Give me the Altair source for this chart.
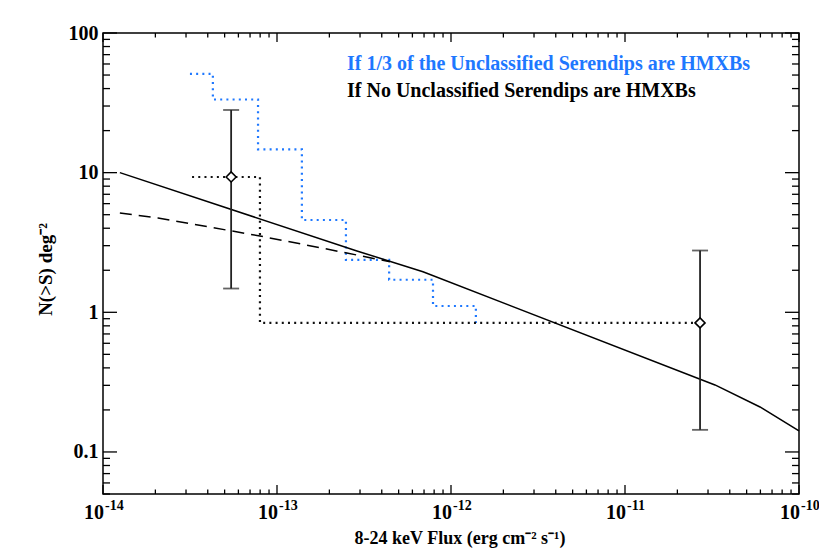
import altair as alt
import pandas as pd

# ---------------- data ----------------
solid_x = [1.25e-14, 2.88e-13, 6.9e-13, 3.29e-11, 5.97e-11, 1e-10]
solid_y = [10.0, 2.75, 1.95, 0.302, 0.210, 0.1415]

dashed_x = [1.25e-14, 2.07e-14, 7.98e-14, 2.52e-13, 4.46e-13]
dashed_y = [5.15, 4.74, 3.52, 2.66, 2.30]

blue_x = [3.16e-14, 4.28e-14, 7.78e-14, 1.39e-13, 2.49e-13, 4.41e-13, 7.88e-13, 1.39e-12]
blue_y = [50.9, 33.4, 14.7, 4.58, 2.37, 1.71, 1.11, 0.84]

black_x = [3.25e-14, 7.98e-14, 2.70e-11]
black_y = [9.31, 0.84, 0.84]

pt_x = [5.45e-14, 2.70e-11]
pt_y = [9.31, 0.84]
pt_lo = [1.48, 0.144]
pt_hi = [28.1, 2.77]

x_major = [1e-14, 1e-13, 1e-12, 1e-11, 1e-10]
x_exp = ["-14", "-13", "-12", "-11", "-10"]
x_minor = [m * 10.0 ** e for e in range(-14, -10) for m in range(2, 10)]
y_major = [0.1, 1, 10, 100]
y_minor = [m * 10.0 ** e for e in range(-2, 2) for m in range(2, 10) if m * 10.0 ** e >= 0.05]

line1 = "If 1/3 of the Unclassified Serendips are HMXBs"
line2 = "If No Unclassified Serendips are HMXBs"
x_title = "8-24 keV Flux (erg cm\u207b\u00b2 s\u207b\u00b9)"
y_title = "N(>S) deg\u207b\u00b2"

BLUE = "#1e78ff"
FONT = "Liberation Serif"
W, H = 696, 461

xscale = alt.Scale(type="log", domain=[1e-14, 1e-10], nice=False)
yscale = alt.Scale(type="log", domain=[0.05, 100], nice=False)


def X(f):
    return alt.X(f"{f}:Q", scale=xscale, axis=None)


def Y(f):
    return alt.Y(
        f"{f}:Q",
        scale=yscale,
        axis=alt.Axis(
            values=y_major, format="~g", labelFont=FONT, labelFontSize=20,
            labelFontWeight="bold", labelColor="black", labelPadding=5,
            ticks=False, domain=False, grid=False, title=None,
        ),
    )


def df(**cols):
    return pd.DataFrame(cols)


blue = alt.Chart(df(x=blue_x, y=blue_y)).mark_line(
    interpolate="step-after", color=BLUE, strokeDash=[2, 4.2], strokeWidth=2.2
).encode(x=X("x"), y=Y("y"))

black = alt.Chart(df(x=black_x, y=black_y)).mark_line(
    interpolate="step-after", color="#111", strokeDash=[2, 4.2], strokeWidth=2.2
).encode(x=X("x"), y=Y("y"))

solid = alt.Chart(df(x=solid_x, y=solid_y)).mark_line(
    color="black", strokeWidth=1.5
).encode(x=X("x"), y=Y("y"))

dashed = alt.Chart(df(x=dashed_x, y=dashed_y)).mark_line(
    color="black", strokeWidth=1.5, strokeDash=[12, 7]
).encode(x=X("x"), y=Y("y"))

pts = df(x=pt_x, y=pt_y, lo=pt_lo, hi=pt_hi)
err = alt.Chart(pts).mark_rule(color="#222", strokeWidth=1.8).encode(
    x=X("x"), y=Y("lo"), y2="hi:Q"
)
cap_lo = alt.Chart(pts).mark_tick(orient="horizontal", size=16, thickness=1.8, color="#222").encode(
    x=X("x"), y=Y("lo")
)
cap_hi = alt.Chart(pts).mark_tick(orient="horizontal", size=16, thickness=1.8, color="#222").encode(
    x=X("x"), y=Y("hi")
)
diam = alt.Chart(pts).mark_point(
    shape="diamond", size=100, fill="white", stroke="black", strokeWidth=1.6, opacity=1
).encode(x=X("x"), y=Y("y"))


def xticks(vals, ln):
    d = df(v=vals)
    b = alt.Chart(d).mark_rule(color="black", strokeWidth=1.3).encode(
        x=X("v"), y=alt.value(H), y2=alt.value(H - ln))
    t = alt.Chart(d).mark_rule(color="black", strokeWidth=1.3).encode(
        x=X("v"), y=alt.value(0), y2=alt.value(ln))
    return [b, t]


def yticks(vals, ln):
    d = df(v=vals)
    l = alt.Chart(d).mark_rule(color="black", strokeWidth=1.3).encode(
        y=Y("v"), x=alt.value(0), x2=alt.value(ln))
    r = alt.Chart(d).mark_rule(color="black", strokeWidth=1.3).encode(
        y=Y("v"), x=alt.value(W), x2=alt.value(W - ln))
    return [l, r]


ticks = xticks(x_major, 9) + xticks(x_minor, 4.5) + yticks(y_major, 14) + yticks(y_minor, 7)

xlab = df(v=x_major, e=x_exp)
xlab_base = alt.Chart(xlab).mark_text(
    align="right", baseline="alphabetic", font=FONT, fontWeight="bold", fontSize=20, dx=1, color="black"
).encode(x=X("v"), y=alt.value(H + 25), text=alt.value("10"))
xlab_exp = alt.Chart(xlab).mark_text(
    align="left", baseline="alphabetic", font=FONT, fontWeight="bold", fontSize=14, dx=2, color="black"
).encode(x=X("v"), y=alt.value(H + 16), text="e:N")

ann1 = alt.Chart(df(t=[line1])).mark_text(
    align="left", baseline="alphabetic", font=FONT, fontWeight="bold", fontSize=20, color=BLUE
).encode(x=alt.value(244), y=alt.value(36.5), text="t:N")
ann2 = alt.Chart(df(t=[line2])).mark_text(
    align="left", baseline="alphabetic", font=FONT, fontWeight="bold", fontSize=20, color="black"
).encode(x=alt.value(244), y=alt.value(63.5), text="t:N")

xt = alt.Chart(df(t=[x_title])).mark_text(
    align="center", baseline="alphabetic", font=FONT, fontWeight="bold", fontSize=18, color="black"
).encode(x=alt.value(357), y=alt.value(511), text="t:N")
yt = alt.Chart(df(t=[y_title])).mark_text(
    align="center", baseline="middle", font=FONT, fontWeight="bold", fontSize=19, angle=270, color="black"
).encode(x=alt.value(-57), y=alt.value(H / 2 + 6), text="t:N")

chart = alt.layer(
    blue, black, dashed, solid, err, cap_lo, cap_hi, diam, *ticks,
    xlab_base, xlab_exp, ann1, ann2, xt, yt
).properties(
    width=W, height=H, autosize="none",
    padding={"left": 95, "top": 25, "right": 20, "bottom": 58},
    background="white",
).configure_view(stroke="black", strokeWidth=1.5)

chart.save("out.html", embed_options={"renderer": "svg", "actions": False})
